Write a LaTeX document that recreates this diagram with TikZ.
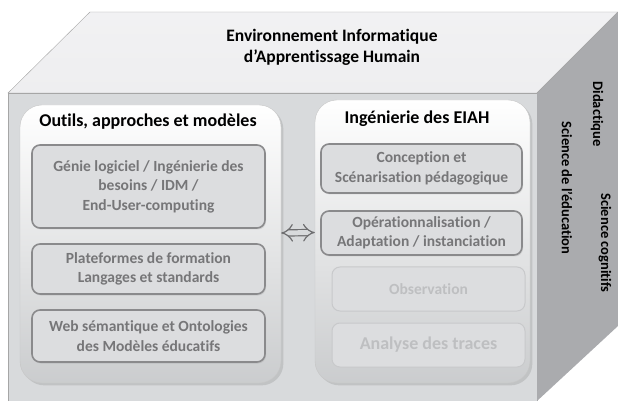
\documentclass[tikz,border=0pt]{standalone}
\usepackage{fontspec}
\setmainfont[Ligatures=NoCommon]{Carlito}
\usetikzlibrary{arrows.meta, shadows}
\definecolor{facefront}{RGB}{216, 218, 220}
\definecolor{facetop}{RGB}{238, 238, 240}
\definecolor{faceside}{RGB}{170, 171, 174}
\definecolor{boxfill}{RGB}{220, 221, 223}
\definecolor{boxline}{RGB}{138, 138, 140}
\definecolor{boxtext}{RGB}{118, 118, 120}
\definecolor{palebox}{RGB}{200, 201, 203}
\definecolor{paletext}{RGB}{190, 191, 193}
\tikzset{
  panel/.style={draw=gray!45, top color=white, bottom color=facefront!85!gray, rounded corners=22pt, drop shadow={opacity=0.25}},
  item/.style={draw=boxline, line width=1.6pt, fill=boxfill, rounded corners=8pt, align=center, text=boxtext, font=\fontsize{15.5}{19.5}\selectfont\bfseries, drop shadow={opacity=0.2, shadow xshift=1pt, shadow yshift=-1.5pt}},
  paleitem/.style={draw=palebox, line width=1pt, fill=boxfill, rounded corners=8pt, align=center, text=paletext, font=\fontsize{15.5}{19.5}\selectfont\bfseries},
  sidetext/.style={rotate=-90, font=\fontsize{14.5}{16}\selectfont\bfseries},
  paneltitle/.style={font=\fontsize{18}{20}\selectfont\bfseries}
}
\begin{document}
\begin{tikzpicture}[x=1pt, y=-1pt]
  \useasboundingbox (0,0) rectangle (618,403);

  % cube faces
  \fill[facefront] (8,93) rectangle (537,401);
  \draw[gray!70] (8,401) -- (8,93) -- (537,93) -- (537,401);
  \shade[top color=facetop!80!white, bottom color=facetop, draw=gray!70] (8,93) -- (90,12) -- (618,12) -- (537,93) -- cycle;
  \fill[faceside] (537,93) -- (618,12) -- (618,326) -- (537,401) -- cycle;
  \draw[gray!70] (537,93) -- (618,12);

  \node[align=center, font=\fontsize{17.5}{21}\selectfont\bfseries] (eiah) at (332,47) {Environnement Informatique\\d'Apprentissage Humain};

  % side face labels
  \node[sidetext] (didac) at (597,114) {Didactique};
  \node[sidetext] (educ) at (567,188) {Science de l'éducation};
  \node[sidetext] (cogn) at (605,243) {Science cognitifs};

  % left panel
  \node[panel, minimum width=261, minimum height=278] (outils) at (150.5,244) {};
  \node[paneltitle] (outilstitle) at (148,122) {Outils, approches et modèles};
  \node[item, minimum width=233, minimum height=83] (genie) at (148.5,186.5) {Génie logiciel / Ingénierie des\\besoins / IDM /\\End-User-computing};
  \node[item, minimum width=233, minimum height=50] (plateformes) at (148.5,269) {Plateformes de formation\\Langages et standards};
  \node[item, minimum width=233, minimum height=52] (web) at (148.5,336) {Web sémantique et Ontologies\\des Modèles éducatifs};

  % right panel
  \node[panel, minimum width=215, minimum height=283] (ingenierie) at (422.5,241.5) {};
  \node[paneltitle] (ingtitle) at (417,119) {Ingénierie des EIAH};
  \node[item, minimum width=201, minimum height=49] (conception) at (421.5,168.5) {Conception et\\Scénarisation pédagogique};
  \node[item, minimum width=201, minimum height=44] (operation) at (421.5,233) {Opérationnalisation /\\Adaptation / instanciation};
  \node[paleitem, minimum width=193, minimum height=44] (observation) at (428.5,289) {Observation};
  \node[paleitem, minimum width=193, minimum height=44, font=\fontsize{18}{20}\selectfont\bfseries] (analyse) at (428.5,345) {Analyse des traces};

  % link between panels
  \draw[boxline!80!black, line width=1.2pt, double=facefront, double distance=5pt, {Implies}-{Implies}] ([yshift=11pt]outils.east) -- ([yshift=9pt]ingenierie.west);
\end{tikzpicture}
\end{document}
